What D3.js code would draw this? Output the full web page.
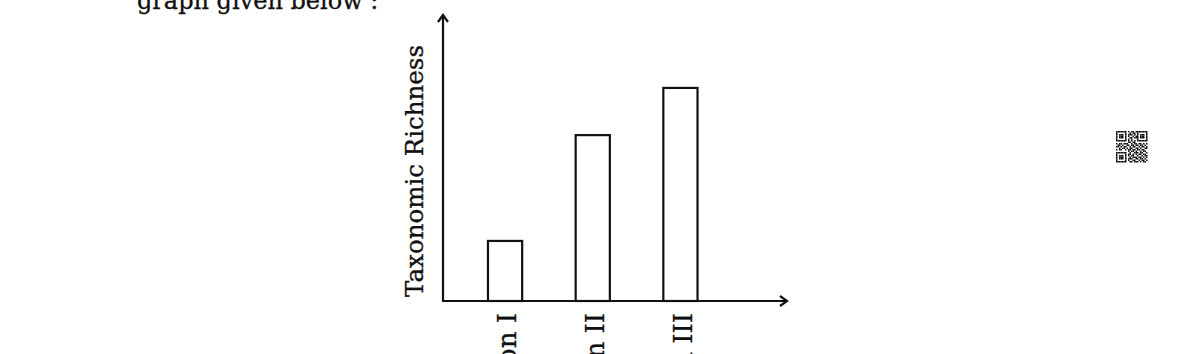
<!DOCTYPE html>
<html>
<head>
<meta charset="utf-8">
<script src="https://cdn.jsdelivr.net/npm/d3@7"></script>
<style>
  html, body { margin: 0; padding: 0; background: #fff; }
  svg { display: block; }
  text { font-family: "DejaVu Serif", "Liberation Serif", serif; fill: #111; stroke: #111; stroke-width: 0.35; }
</style>
</head>
<body>
<div class="curr-graff"></div>
<script>
// chart data
const regions = ["Region I", "Region II", "Region III"];
const richness = [2.1, 5.8, 7.45];
const yLabel = "Taxonomic Richness";
const caption = "graph given below :";

// qr-code decoration in the page margin
const qrRows = [
  "111111101011011111111",
  "100000100101101000001",
  "101110101110101011101",
  "101110101001011011101",
  "101110100110111011101",
  "100000101010001000001",
  "111111101010101111111",
  "000000001101100000000",
  "101101110010110110101",
  "011010011011011011010",
  "110101100101100101101",
  "001011010110011010011",
  "101100101101101101100",
  "000000001011010010110",
  "111111100100111011001",
  "100000101101010110110",
  "101110101011001001011",
  "101110100101110110101",
  "101110101110011011010",
  "100000101001100101101",
  "111111100110111010110"
];

function drawChart() {
  const width = 1191;
  const height = 354;
  const ox = 443, oy = 301;   // axis origin

  const svg = d3.select(".curr-graff")
    .append("svg")
    .attr("width", width)
    .attr("height", height);

  const x = d3.scaleBand()
    .domain(regions)
    .range([ox, 742.5])
    .paddingInner(0.61)
    .paddingOuter(0.513);

  const y = d3.scaleLinear()
    .domain([0, 10])
    .range([oy, 15]);

  // caption text cut at the top
  svg.append("text")
    .attr("x", 137)
    .attr("y", 9)
    .attr("font-size", 24)
    .text(caption);

  // bars
  svg.selectAll("rect.bar")
    .data(richness)
    .enter()
    .append("rect")
    .attr("class", "bar")
    .attr("x", (d, i) => x(regions[i]))
    .attr("y", d => y(d))
    .attr("width", x.bandwidth())
    .attr("height", d => y(0) - y(d))
    .attr("fill", "none")
    .attr("stroke", "#111")
    .attr("stroke-width", 2.2);

  // axes with open arrow heads
  const axis = svg.append("g")
    .attr("stroke", "#111")
    .attr("stroke-width", 2.2)
    .attr("fill", "none");

  axis.append("path")
    .attr("d", `M${ox},${oy} V${y(10)}`);
  axis.append("path")
    .attr("d", `M${ox - 5},${y(10) + 7} L${ox},${y(10)} L${ox + 5},${y(10) + 7}`);

  axis.append("path")
    .attr("d", `M${ox - 1},${oy} H787`);
  axis.append("path")
    .attr("d", `M780,${oy - 5} L787,${oy} L780,${oy + 5}`);

  // category labels, rotated and running off the bottom
  svg.selectAll("text.cat")
    .data(regions)
    .enter()
    .append("text")
    .attr("class", "cat")
    .attr("text-anchor", "end")
    .attr("font-size", 26)
    .attr("dy", "0.36em")
    .attr("transform", d => `translate(${x(d) + x.bandwidth() / 2 + 2},313) rotate(-90)`)
    .text(d => d);

  // y axis title
  svg.append("text")
    .attr("text-anchor", "middle")
    .attr("font-size", 24.5)
    .attr("transform", "translate(423,171) rotate(-90)")
    .text(yLabel);

  // qr code
  const cell = 1.5;
  const qr = svg.append("g").attr("transform", "translate(1116,131)");
  qrRows.forEach((row, r) => {
    row.split("").forEach((c, k) => {
      if (c === "1") {
        qr.append("rect")
          .attr("x", k * cell)
          .attr("y", r * cell)
          .attr("width", cell)
          .attr("height", cell)
          .attr("fill", "#111");
      }
    });
  });
}

drawChart();
</script>
</body>
</html>
